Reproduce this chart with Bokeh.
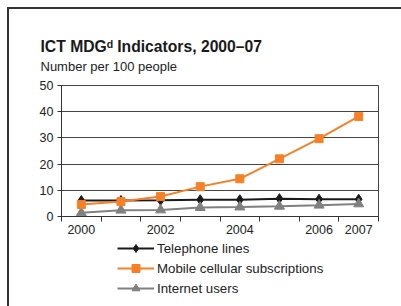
from bokeh.plotting import figure
from bokeh.layouts import column
from bokeh.models import Legend, LegendItem, FixedTicker, Title, Range1d
from bokeh.embed import file_html
from bokeh.resources import INLINE

years = ["2000", "2001", "2002", "2003", "2004", "2005", "2006", "2007"]
shown_labels = ["2000", "2002", "2004", "2006", "2007"]
telephone = [6.1, 6.1, 6.2, 6.4, 6.4, 6.8, 6.6, 6.6]
mobile = [4.6, 5.7, 7.6, 11.4, 14.4, 22.0, 29.7, 38.2]
internet = [1.4, 2.4, 2.5, 3.4, 3.6, 3.9, 4.3, 4.8]
y_ticks = [0, 10, 20, 30, 40, 50]
series_names = ["Telephone lines", "Mobile cellular subscriptions", "Internet users"]

FONT = "Liberation Sans"
BLACK = "#1a1a1a"
ORANGE = "#f68026"
GRAY = "#808080"
x = [i + 0.5 for i in range(len(years))]

p = figure(frame_width=317, frame_height=131, output_backend="svg", toolbar_location=None,
           x_range=(0, len(years)), y_range=(0, 50), title=None,
           min_border_left=52, min_border_right=23, min_border_top=76, min_border_bottom=24)
p.outline_line_color = "#444444"
p.outline_line_width = 1
p.background_fill_color = "white"
p.border_fill_color = "white"

p.xgrid.grid_line_color = None
p.ygrid.grid_line_color = "#444444"
p.ygrid.grid_line_width = 1
p.ygrid.ticker = FixedTicker(ticks=y_ticks)

p.yaxis.ticker = FixedTicker(ticks=y_ticks)
p.yaxis.major_tick_in = 0
p.yaxis.major_tick_out = 4
p.yaxis.minor_tick_line_color = None
p.yaxis.axis_line_color = "#333333"
p.yaxis.major_tick_line_color = "#333333"
p.yaxis.major_label_text_font = FONT
p.yaxis.major_label_text_font_size = "12.5px"
p.yaxis.major_label_text_color = "#222222"
p.yaxis.major_label_standoff = 4

xt = [x[years.index(s)] for s in shown_labels]
p.xaxis.ticker = FixedTicker(ticks=xt, minor_ticks=list(range(len(years) + 1)))
p.xaxis.major_label_overrides = {v: s for v, s in zip(xt, shown_labels)}
p.xaxis.major_tick_line_color = None
p.xaxis.major_tick_out = 5
p.xaxis.major_tick_in = 0
p.xaxis.minor_tick_out = 5
p.xaxis.minor_tick_in = 0
p.xaxis.minor_tick_line_color = "#333333"
p.xaxis.axis_line_color = "#333333"
p.xaxis.major_label_text_font = FONT
p.xaxis.major_label_text_font_size = "12.5px"
p.xaxis.major_label_text_color = "#222222"
p.xaxis.major_label_standoff = 3


def draw_series(fig):
    r1l = fig.line(x, telephone, line_color=BLACK, line_width=2)
    r1m = fig.scatter(x, telephone, marker="diamond", size=10, fill_color=BLACK, line_color=BLACK)
    r3l = fig.line(x, internet, line_color=GRAY, line_width=2)
    r3m = fig.scatter(x, internet, marker="triangle", size=10, fill_color=GRAY, line_color=GRAY)
    r2l = fig.line(x, mobile, line_color=ORANGE, line_width=2)
    r2m = fig.scatter(x, mobile, marker="square", size=8, fill_color=ORANGE, line_color=ORANGE)
    return [[r1l, r1m], [r2l, r2m], [r3l, r3m]]


draw_series(p)

p.add_layout(Title(text="Number per 100 people", text_font=FONT, text_font_style="normal",
                   text_font_size="13px", text_color="#222222", align="left",
                   offset=-21, standoff=23), "above")
p.add_layout(Title(text="ICT MDGᵈ Indicators, 2000–07", text_font=FONT,
                   text_font_style="bold", text_font_size="15.7px", text_color="#1a1a1a",
                   align="left", offset=-21, standoff=-18), "above")

# legend panel below the chart (series drawn off-range, only the legend is seen)
lg = figure(width=392, height=66, output_backend="svg", toolbar_location=None,
            x_range=Range1d(100, 101), y_range=Range1d(100, 101),
            x_axis_type=None, y_axis_type=None,
            min_border_left=0, min_border_right=0, min_border_top=0, min_border_bottom=0)
lg.grid.visible = False
lg.outline_line_color = None
lg.background_fill_color = "white"
lg.border_fill_color = "white"
leg_renderers = draw_series(lg)

legend = Legend(items=[LegendItem(label=n, renderers=r) for n, r in zip(series_names, leg_renderers)],
                location=(56, 8), padding=0, spacing=0, glyph_width=37, glyph_height=20,
                label_height=20, label_standoff=3, border_line_color=None,
                background_fill_alpha=0, label_text_font=FONT, label_text_font_size="13.3px",
                label_text_color="#222222", margin=0)
lg.add_layout(legend, "center")

layout = column(p, lg, spacing=0,
                styles={"margin-left": "7px", "margin-top": "7px",
                        "border-left": "2px solid #333333", "border-top": "2px solid #333333"})

open("out.html", "w").write(file_html(layout, INLINE))
